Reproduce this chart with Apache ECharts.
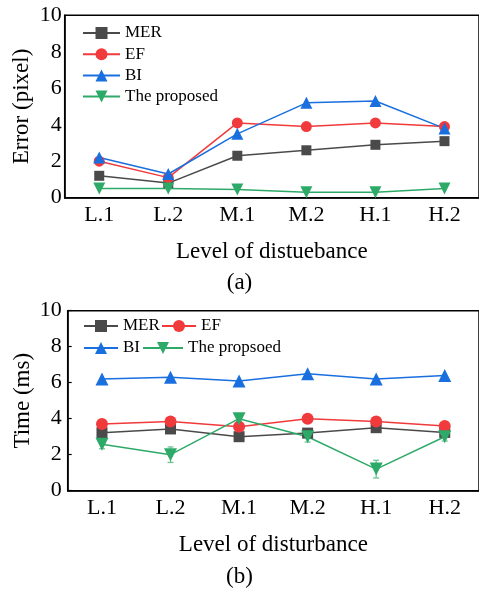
<!DOCTYPE html>
<html><head><meta charset="utf-8">
<script src="https://cdn.jsdelivr.net/npm/echarts@6/dist/echarts.min.js"></script>
<style>html,body{margin:0;padding:0;background:#fff}#c{width:479px;height:590px}</style>
</head><body><div id="c"></div>
<script>
const categories = ['L.1','L.2','M.1','M.2','H.1','H.2'];
// (a) Error (pixel)
const errMER = [1.2, 0.8, 2.3, 2.6, 2.9, 3.1];
const errEF = [2.0, 1.1, 4.1, 3.9, 4.1, 3.9];
const errBI = [2.2, 1.3, 3.5, 5.2, 5.3, 3.8];
const errProposed = [0.5, 0.5, 0.45, 0.3, 0.3, 0.5];
// (b) Time (ms)
const timeMER = [3.22, 3.43, 3.0, 3.2, 3.5, 3.24];
const timeEF = [3.7, 3.85, 3.55, 4.0, 3.85, 3.6];
const timeBI = [6.2, 6.3, 6.1, 6.5, 6.2, 6.4];
const timeProposed = [2.58, 2.0, 4.0, 3.0, 1.2, 3.0];
const timeProposedErr = [0.25, 0.43, 0.15, 0.3, 0.49, 0.24];
const yTicks = [0, 2, 4, 6, 8, 10];

const FONT = 'Liberation Serif';
const C = {mer:'#4a4a4a', ef:'#f03a3c', bi:'#1a6fdf', pr:'#2eaa68', prErr:'#6cc495'};

function mkLine(name, data, color, symbol, size, xi, yi, rotate) {
  return {
    type:'line', name, data, xAxisIndex:xi, yAxisIndex:yi,
    symbol, symbolSize:size, symbolRotate: rotate||0,
    lineStyle:{color, width:1.5}, itemStyle:{color},
    emphasis:{disabled:true}, animation:false, z:3
  };
}
function xMain(gi, nameText) {
  return {
    type:'category', gridIndex:gi, data:categories, boundaryGap:true,
    axisLine:{lineStyle:{color:'#000', width:1.5}},
    axisTick:{inside:true, alignWithLabel:true, length:5, lineStyle:{color:'#000', width:1.2}},
    axisLabel:{fontFamily:FONT, fontSize:22, color:'#000', margin:7},
    name:nameText, nameLocation:'middle', nameGap:43,
    nameTextStyle:{fontFamily:FONT, fontSize:23, color:'#000'}
  };
}
function xMinor(gi) {
  return {
    type:'category', gridIndex:gi, data:categories, boundaryGap:true,
    axisLine:{show:false}, axisLabel:{show:false},
    axisTick:{inside:true, length:3, lineStyle:{color:'#000', width:1.2}}
  };
}
function yAx(gi, nameText, showTicks, margin, gap) {
  return {
    type:'value', gridIndex:gi, min:yTicks[0], max:yTicks[yTicks.length-1], interval:yTicks[1]-yTicks[0],
    axisLine:{show:true, lineStyle:{color:'#000', width:1.5}},
    axisTick:{show:showTicks, inside:true, length:4, lineStyle:{color:'#000', width:1.2}},
    splitLine:{show:false},
    axisLabel:{fontFamily:FONT, fontSize:22, color:'#000', margin},
    name:nameText, nameLocation:'middle', nameGap:gap, nameMoveOverlap:false,
    nameTextStyle:{fontFamily:FONT, fontSize:23, color:'#000'}
  };
}
function legendItem(name, left, top, w) {
  return {
    data:[name], left, top, orient:'vertical', itemWidth:w, itemHeight:15, itemGap:0,
    padding:0, selectedMode:false,
    textStyle:{fontFamily:FONT, fontSize:17, color:'#000', lineHeight:18}
  };
}

const chart = echarts.init(document.getElementById('c'), null, {renderer:'canvas'});
chart.setOption({
  animation:false,
  backgroundColor:'#fff',
  grid:[
    {left:64.7, top:15.3, width:419, height:182.4, show:true, borderColor:'#000', borderWidth:1.5, backgroundColor:'transparent'},
    {left:67.7, top:310.7, width:416.4, height:180, show:true, borderColor:'#000', borderWidth:1.5, backgroundColor:'transparent'}
  ],
  xAxis:[xMain(0,'Level of distuebance'), xMinor(0), xMain(1,'Level of disturbance'), xMinor(1)],
  yAxis:[yAx(0,'Error (pixel)', false, 3, 31), yAx(1,'Time (ms)', true, 6, 33)],
  legend:[
    legendItem('MER', 82, 24, 37),
    legendItem('EF', 82, 45.2, 37),
    legendItem('BI', 82, 66.4, 37),
    legendItem('The proposed', 82, 87.6, 37),
    legendItem('MER', 83, 317, 34),
    legendItem('EF', 161, 317, 34),
    legendItem('BI', 83, 339, 34),
    legendItem('The propsoed', 142, 339, 40)
  ],
  graphic:[
    {type:'text', left:'center', top:271, style:{text:'(a)', font:'23px "Liberation Serif"', fill:'#000'}},
    {type:'text', left:'center', top:565, style:{text:'(b)', font:'23px "Liberation Serif"', fill:'#000'}}
  ],
  series:[
    mkLine('MER', errMER, C.mer, 'rect', 10, 0, 0),
    mkLine('EF', errEF, C.ef, 'circle', 11, 0, 0),
    mkLine('BI', errBI, C.bi, 'triangle', 12, 0, 0),
    mkLine('The proposed', errProposed, C.pr, 'triangle', 12, 0, 0, 180),
    mkLine('MER', timeMER, C.mer, 'rect', 11, 2, 1),
    mkLine('EF', timeEF, C.ef, 'circle', 12, 2, 1),
    mkLine('BI', timeBI, C.bi, 'triangle', 13, 2, 1),
    {
      type:'custom', xAxisIndex:2, yAxisIndex:1, z:2, animation:false, silent:true,
      data: timeProposed.map((v,i)=>[i, v - timeProposedErr[i], v + timeProposedErr[i]]),
      encode:{x:0, y:[1,2]},
      renderItem:function(params, api){
        const lo = api.coord([api.value(0), api.value(1)]);
        const hi = api.coord([api.value(0), api.value(2)]);
        const hw = 3;
        const st = {stroke:C.prErr, lineWidth:1.3};
        return {type:'group', children:[
          {type:'line', shape:{x1:lo[0], y1:lo[1], x2:hi[0], y2:hi[1]}, style:st},
          {type:'line', shape:{x1:lo[0]-hw, y1:lo[1], x2:lo[0]+hw, y2:lo[1]}, style:st},
          {type:'line', shape:{x1:hi[0]-hw, y1:hi[1], x2:hi[0]+hw, y2:hi[1]}, style:st}
        ]};
      }
    },
    mkLine('The propsoed', timeProposed, C.pr, 'triangle', 13, 2, 1, 180)
  ]
});
</script>
</body></html>
